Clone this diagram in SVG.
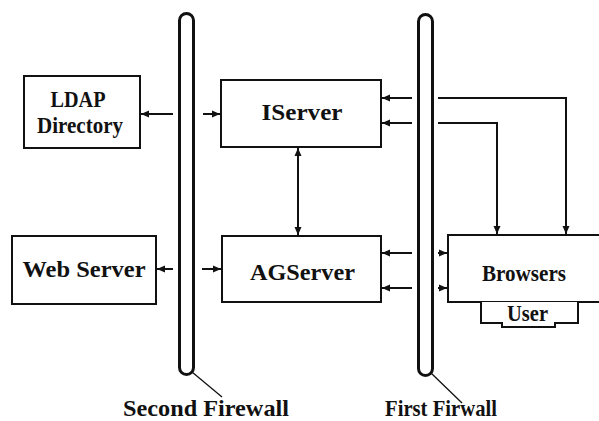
<svg xmlns="http://www.w3.org/2000/svg" width="599" height="421" viewBox="0 0 599 421">
<defs>
<style>
.box{fill:#fff;stroke:#111;stroke-width:2}
.fw{fill:none;stroke:#111;stroke-width:3}
.ln{fill:none;stroke:#111;stroke-width:2}
.ld{fill:none;stroke:#111;stroke-width:1.3}
.t{font-family:"Liberation Serif","Times New Roman",Times,serif;font-weight:bold;font-size:24px;fill:#111;text-anchor:middle}
.lbl{font-family:"Liberation Serif","Times New Roman",Times,serif;font-weight:bold;font-size:24px;fill:#111;text-anchor:middle}
</style>
<marker id="ah" markerUnits="userSpaceOnUse" markerWidth="9" markerHeight="8" refX="8" refY="4" orient="auto">
<path d="M0,0.5 L8,4 L0,7.5 z" fill="#111"/>
</marker>
<marker id="as" markerUnits="userSpaceOnUse" markerWidth="9" markerHeight="8" refX="1" refY="4" orient="auto">
<path d="M9,0.5 L1,4 L9,7.5 z" fill="#111"/>
</marker>
</defs>
<rect width="599" height="421" fill="#fff"/>
<g id="second-firewall">
<rect class="fw" x="179.5" y="13.5" width="14" height="361" rx="7"/>
<line class="ld" x1="192" y1="372" x2="222" y2="397"/>
<text class="lbl" x="206" y="416" textLength="166" lengthAdjust="spacingAndGlyphs">Second Firewall</text>
</g>
<g id="first-firewall">
<rect class="fw" x="418.5" y="14.5" width="14" height="361" rx="7"/>
<line class="ld" x1="431" y1="373" x2="462" y2="403"/>
<text class="lbl" x="441" y="416" textLength="112" lengthAdjust="spacingAndGlyphs">First Firwall</text>
</g>
<g id="ldap">
<rect class="box" x="24" y="76" width="116" height="72"/>
<text class="t" x="78" y="107" textLength="55" lengthAdjust="spacingAndGlyphs">LDAP</text>
<text class="t" x="80" y="133" textLength="86" lengthAdjust="spacingAndGlyphs">Directory</text>
</g>
<g id="iserver">
<rect class="box" x="221" y="80" width="160" height="67"/>
<text class="t" x="302" y="120" textLength="81" lengthAdjust="spacingAndGlyphs">IServer</text>
</g>
<g id="webserver">
<rect class="box" x="12" y="236" width="144" height="68"/>
<text class="t" x="84" y="277" textLength="123" lengthAdjust="spacingAndGlyphs">Web Server</text>
</g>
<g id="agserver">
<rect class="box" x="222" y="236" width="159" height="66"/>
<text class="t" x="302.5" y="280" textLength="105" lengthAdjust="spacingAndGlyphs">AGServer</text>
</g>
<g id="browsers">
<rect class="box" x="448" y="235" width="153" height="67"/>
<text class="t" x="524" y="281" textLength="84" lengthAdjust="spacingAndGlyphs">Browsers</text>
</g>
<g id="user">
<path class="box" d="M481,302 L481,323 L502,323 L502,327 L555,327 L555,323 L578,323 L578,302"/>
<text class="t" x="527.5" y="321" textLength="41" lengthAdjust="spacingAndGlyphs">User</text>
</g>
<g id="connectors">
<line class="ln" x1="173" y1="114" x2="141" y2="114" marker-end="url(#ah)"/>
<line class="ln" x1="203" y1="114" x2="220" y2="114" marker-end="url(#ah)"/>
<line class="ln" x1="173" y1="269" x2="157" y2="269" marker-end="url(#ah)"/>
<line class="ln" x1="202" y1="269" x2="221" y2="269" marker-end="url(#ah)"/>
<line class="ln" x1="298" y1="148" x2="298" y2="235" marker-start="url(#as)" marker-end="url(#ah)"/>
<line class="ln" x1="412" y1="98" x2="382" y2="98" marker-end="url(#ah)"/>
<line class="ln" x1="412" y1="123" x2="382" y2="123" marker-end="url(#ah)"/>
<line class="ln" x1="412" y1="253" x2="382" y2="253" marker-end="url(#ah)"/>
<line class="ln" x1="412" y1="288" x2="382" y2="288" marker-end="url(#ah)"/>
<line class="ln" x1="438" y1="253" x2="447" y2="253" marker-end="url(#ah)"/>
<line class="ln" x1="438" y1="288" x2="447" y2="288" marker-end="url(#ah)"/>
<polyline class="ln" points="438,98 566,98 566,234" marker-end="url(#ah)"/>
<polyline class="ln" points="438,123 497,123 497,234" marker-end="url(#ah)"/>
</g>
</svg>
